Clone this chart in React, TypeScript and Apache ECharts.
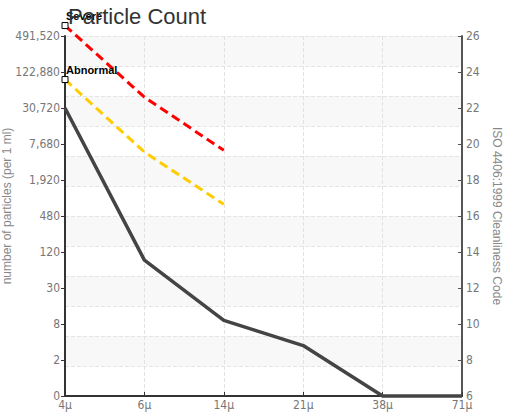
import React, { useEffect, useRef } from 'react';
import * as echarts from 'echarts';

const categories = ['4μ', '6μ', '14μ', '21μ', '38μ', '71μ'];
const actualCodes = [22, 13.55, 10.2, 8.8, 6, 6];
const severeCodes = [26.58, 22.6, 19.65];
const abnormalCodes = [23.58, 19.55, 16.65];
const codeMin = 6;
const codeMax = 26;
const particleTickLabels = ['0', '2', '8', '30', '120', '480', '1,920', '7,680', '30,720', '122,880', '491,520'];
const bandCount = 12;

const labelFont = "'DejaVu Sans Condensed', 'Liberation Sans Narrow', sans-serif";

function limitSeries(values: number[], name: string) {
  return values.map((v, i) =>
    i === 0
      ? {
          value: v,
          symbol: 'rect',
          symbolSize: 6,
          itemStyle: { color: '#ffffff', borderColor: '#000000', borderWidth: 1 },
          label: {
            show: true,
            position: 'top',
            align: 'left',
            distance: 1,
            offset: [1, 0],
            formatter: name,
            fontSize: 11,
            fontWeight: 'bold',
            color: '#000',
            fontFamily: "'Liberation Sans', Arial, sans-serif",
          },
        }
      : { value: v, symbol: 'none' }
  );
}

export default function App() {
  const ref = useRef<HTMLDivElement>(null);
  useEffect(() => {
    if (!ref.current) return;
    const chart = echarts.init(ref.current, undefined, { renderer: 'svg' });
    chart.setOption({
      animation: false,
      title: {
        text: 'Particle Count',
        left: 63,
        top: 0,
        textStyle: { fontSize: 22, fontWeight: 'normal', color: '#333', fontFamily: "'Liberation Sans', Arial, sans-serif" },
      },
      grid: { left: 65, right: 46, top: 36, bottom: 16, containLabel: false, outerBoundsMode: 'none' },
      xAxis: {
        type: 'category',
        data: categories,
        boundaryGap: false,
        axisLine: { lineStyle: { color: '#333', width: 2 } },
        axisTick: { show: true, inside: true, length: 4, lineStyle: { color: '#333' } },
        axisLabel: { margin: 3, color: '#777', fontSize: 12, fontFamily: labelFont },
        splitLine: { show: true, lineStyle: { color: '#e2e2e2', type: 'dashed' } },
      },
      yAxis: [
        {
          type: 'value',
          min: codeMin,
          max: codeMax,
          interval: 2,
          position: 'left',
          name: 'number of particles (per 1 ml)',
          nameLocation: 'middle',
          nameGap: 52,
          nameMoveOverlap: false,
          nameTextStyle: { color: '#888', fontSize: 12, fontFamily: "'Liberation Sans', Arial, sans-serif", padding: [0, 0, 0, 20] },
          axisLine: { show: true, lineStyle: { color: '#333', width: 2 } },
          axisTick: { show: true, length: 4, lineStyle: { color: '#333' } },
          axisLabel: {
            margin: 5,
            color: '#777',
            fontSize: 12,
            fontFamily: labelFont,
            formatter: (v: number) => particleTickLabels[Math.round((v - codeMin) / 2)],
          },
          splitLine: { show: false },
        },
        {
          type: 'value',
          min: codeMin,
          max: codeMax,
          interval: 2,
          position: 'right',
          name: 'ISO 4406:1999 Cleanliness Code',
          nameLocation: 'middle',
          nameGap: 24,
          nameRotate: -90,
          nameTextStyle: { color: '#888', fontSize: 12, fontFamily: "'Liberation Sans', Arial, sans-serif" },
          axisLine: { show: true, lineStyle: { color: '#555', width: 2 } },
          axisTick: { show: true, inside: true, length: 4, lineStyle: { color: '#555' } },
          axisLabel: { margin: 4, color: '#777', fontSize: 12, fontFamily: labelFont },
          splitLine: { show: false },
        },
        {
          type: 'value',
          min: 0,
          max: bandCount,
          interval: 1,
          position: 'left',
          axisLine: { show: false },
          axisTick: { show: false },
          axisLabel: { show: false },
          splitLine: { show: true, lineStyle: { color: '#e4e4e4', type: 'dashed' } },
          splitArea: { show: true, areaStyle: { color: ['#ffffff', '#f8f8f8'] } },
        },
      ],
      series: [
        {
          name: 'Actual',
          type: 'line',
          yAxisIndex: 1,
          data: actualCodes,
          symbol: 'none',
          clip: false,
          lineStyle: { color: '#444', width: 3.5 },
          z: 3,
        },
        {
          name: 'Severe',
          type: 'line',
          yAxisIndex: 1,
          data: limitSeries(severeCodes, 'Severe'),
          showSymbol: true,
          clip: false,
          lineStyle: { color: '#ff0000', width: 3, type: [9, 5] },
          z: 4,
        },
        {
          name: 'Abnormal',
          type: 'line',
          yAxisIndex: 1,
          data: limitSeries(abnormalCodes, 'Abnormal'),
          showSymbol: true,
          clip: false,
          lineStyle: { color: '#ffcc00', width: 3, type: [9, 5] },
          z: 4,
        },
      ],
    });
    return () => chart.dispose();
  }, []);
  return <div ref={ref} style={{ width: 508, height: 412, position: 'absolute', left: 0, top: 0 }} />;
}
